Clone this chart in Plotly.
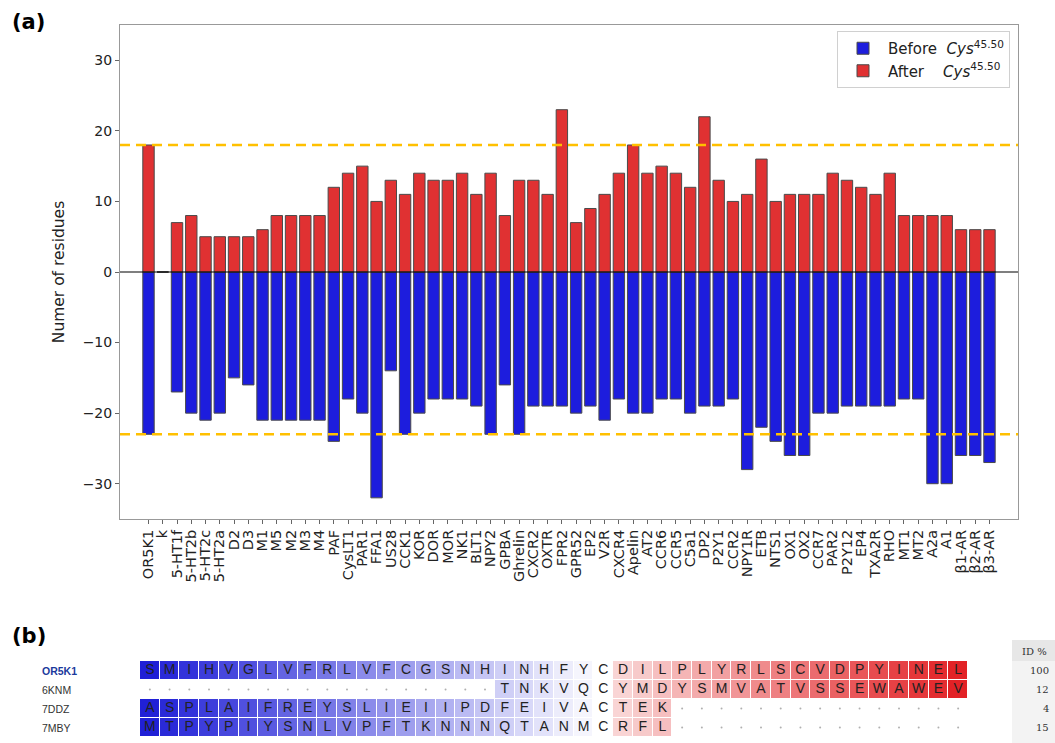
import plotly.graph_objects as go

# ---------------- (a) residue counts around Cys45.50 ----------------
receptors = [
    "OR5K1", "k", "5-HT1f", "5-HT2b", "5-HT2c", "5-HT2a", "D2", "D3", "M1", "M5",
    "M2", "M3", "M4", "PAF", "CysLT1", "PAR1", "FFA1", "US28", "CCK1", "KOR",
    "DOR", "MOR", "NK1", "BLT1", "NPY2", "GPBA", "Ghrelin", "CXCR2", "OXTR", "FPR2",
    "GPR52", "EP2", "V2R", "CXCR4", "Apelin", "AT2", "CCR6", "CCR5", "C5a1", "DP2",
    "P2Y1", "CCR2", "NPY1R", "ETB", "NTS1", "OX1", "OX2", "CCR7", "PAR2", "P2Y12",
    "EP4", "TXA2R", "RHO", "MT1", "MT2", "A2a", "A1", "β1-AR", "β2-AR", "β3-AR",
]
after_cys = [
    18, 0, 7, 8, 5, 5, 5, 5, 6, 8,
    8, 8, 8, 12, 14, 15, 10, 13, 11, 14,
    13, 13, 14, 11, 14, 8, 13, 13, 11, 23,
    7, 9, 11, 14, 18, 14, 15, 14, 12, 22,
    13, 10, 11, 16, 10, 11, 11, 11, 14, 13,
    12, 11, 14, 8, 8, 8, 8, 6, 6, 6,
]
before_cys = [
    -23, 0, -17, -20, -21, -20, -15, -16, -21, -21,
    -21, -21, -21, -24, -18, -20, -32, -14, -23, -20,
    -18, -18, -18, -19, -23, -16, -23, -19, -19, -19,
    -20, -19, -21, -18, -20, -20, -18, -18, -20, -19,
    -19, -18, -28, -22, -24, -26, -26, -20, -20, -19,
    -19, -19, -19, -18, -18, -30, -30, -26, -26, -27,
]
y_ticks = [-30, -20, -10, 0, 10, 20, 30]

# reference levels taken from OR5K1
upper_ref = after_cys[0]
lower_ref = before_cys[0]

# ---------------- (b) alignment ----------------
seq_ids = ["OR5K1", "6KNM", "7DDZ", "7MBY"]
seq_rows = [
    "SMIHVGLVFRLVFCGSNHINHFYCDILPLYRLSCVDPYINEL",
    "------------------TNKVQCYMDYSMVATVSSEWAWEV",
    "ASPLAIFREYSLIEIIPDFEIVACTEK---------------",
    "MTPYPIYSNLVPFTKNNNQTANMCRFL---------------",
]
identity_pct = [100, 12, 4, 15]
cys_col = 23

W, H = 1055, 743
def px_x(p):
    return p / W
def px_y(p):
    return 1 - p / H

fig = go.Figure()

fig.add_trace(go.Bar(
    x=receptors, y=before_cys, name="Before  <i>Cys</i><sup>45.50</sup>",
    marker=dict(color="#1d1ddd", line=dict(color="#4a4a4a", width=1)),
    width=0.8, xaxis="x", yaxis="y",
))
fig.add_trace(go.Bar(
    x=receptors, y=after_cys, name="After    <i>Cys</i><sup>45.50</sup>",
    marker=dict(color="#e03132", line=dict(color="#4a4a4a", width=1)),
    width=0.8, xaxis="x", yaxis="y",
))

# alignment heat map: shading by offset from the Cys column
ncol = len(seq_rows[0])
z = []
let_x, let_y, let_t = [], [], []
dot_x, dot_y = [], []
for rid, row in zip(seq_ids, seq_rows):
    zr = []
    for j, ch in enumerate(row):
        if ch == "-":
            zr.append(None)
            dot_x.append(j)
            dot_y.append(rid)
        else:
            zr.append(j - cys_col)
            let_x.append(j)
            let_y.append(rid)
            let_t.append(ch)
    z.append(zr)

zmin, zmax = -cys_col, ncol - 1 - cys_col
mid = (0 - zmin) / (zmax - zmin)
fig.add_trace(go.Heatmap(
    z=z, x=list(range(ncol)), y=seq_ids,
    zmin=zmin, zmax=zmax,
    colorscale=[[0, "rgb(32,32,214)"], [mid, "rgb(255,255,255)"],
                [mid + 0.02, "rgb(249,214,214)"], [1, "rgb(226,34,38)"]],
    showscale=False, xgap=1, ygap=1, hoverongaps=False,
    xaxis="x2", yaxis="y2",
))
fig.add_trace(go.Scatter(
    x=let_x, y=let_y, text=let_t, mode="text", cliponaxis=False,
    textfont=dict(family="Liberation Sans, Arial", size=14, color="#222222"),
    showlegend=False, xaxis="x2", yaxis="y2", hoverinfo="skip",
))
fig.add_trace(go.Scatter(
    x=dot_x, y=dot_y, mode="markers", cliponaxis=False,
    marker=dict(size=2, color="#b0b0b0"), showlegend=False,
    xaxis="x2", yaxis="y2", hoverinfo="skip",
))

shapes = [
    dict(type="line", xref="x domain", yref="y", x0=0, x1=1, y0=0, y1=0,
         line=dict(color="black", width=1.2), layer="above"),
    dict(type="line", xref="x domain", yref="y", x0=0, x1=1, y0=upper_ref, y1=upper_ref,
         line=dict(color="#ffc000", width=2.6, dash="10px,6px"), layer="above"),
    dict(type="line", xref="x domain", yref="y", x0=0, x1=1, y0=lower_ref, y1=lower_ref,
         line=dict(color="#ffc000", width=2.6, dash="10px,6px"), layer="above"),
    # ID % side table
    dict(type="rect", xref="paper", yref="paper", x0=px_x(1012), x1=1,
         y0=px_y(661), y1=px_y(640), fillcolor="#e7e7e7", line=dict(width=0), layer="below"),
    dict(type="rect", xref="paper", yref="paper", x0=px_x(1012), x1=1,
         y0=0, y1=px_y(661), fillcolor="#f3f3f3", line=dict(width=0), layer="below"),
]

annotations = [
    dict(text="<b>(a)</b>", x=px_x(10), y=px_y(22), xref="paper", yref="paper",
         xanchor="left", yanchor="middle", showarrow=False,
         font=dict(family="DejaVu Sans", size=21, color="black")),
    dict(text="<b>(b)</b>", x=px_x(10), y=px_y(636), xref="paper", yref="paper",
         xanchor="left", yanchor="middle", showarrow=False,
         font=dict(family="DejaVu Sans", size=21, color="black")),
    dict(text="ID %", x=px_x(1034), y=px_y(651), xref="paper", yref="paper",
         xanchor="center", yanchor="middle", showarrow=False,
         font=dict(family="DejaVu Serif", size=10, color="#333")),
]
for i, (rid, pct) in enumerate(zip(seq_ids, identity_pct)):
    if i == 0:
        label = f"<b>{rid}</b>"
        col = "#1b3a9c"
    else:
        label = rid
        col = "#333333"
    annotations.append(dict(
        text=label, x=px_x(40), y=rid, xref="paper", yref="y2",
        xanchor="left", yanchor="middle", showarrow=False,
        font=dict(family="Liberation Sans, Arial", size=10.5, color=col)))
    annotations.append(dict(
        text=str(pct), x=px_x(1051), y=rid, xref="paper", yref="y2",
        xanchor="right", yanchor="middle", showarrow=False,
        font=dict(family="DejaVu Serif", size=10, color="#333")))

fig.update_layout(
    width=W, height=H, autosize=False,
    margin=dict(l=0, r=0, t=0, b=0),
    paper_bgcolor="white", plot_bgcolor="white",
    barmode="relative", bargap=0.2,
    font=dict(family="DejaVu Sans", color="#222"),
    showlegend=True,
    legend=dict(
        x=px_x(1010), y=px_y(31), xanchor="right", yanchor="top",
        bgcolor="white", bordercolor="#d0d0d0", borderwidth=1,
        font=dict(family="DejaVu Sans", size=15, color="#222"),
        tracegroupgap=2, itemwidth=40,
    ),
    xaxis=dict(
        domain=[px_x(120), px_x(1018)], anchor="y",
        type="category", categoryorder="array", categoryarray=receptors,
        tickmode="array", tickvals=receptors, ticktext=receptors,
        range=[-2, 61], tickangle=-90,
        tickfont=dict(family="DejaVu Sans", size=14.5, color="#222"),
        ticks="outside", ticklen=4, tickcolor="#666",
        showline=True, mirror=True, linecolor="#999", linewidth=1,
        showgrid=False, zeroline=False,
    ),
    yaxis=dict(
        domain=[px_y(519), px_y(25)], anchor="x",
        range=[-35, 35], tickvals=y_ticks,
        tickfont=dict(family="DejaVu Sans", size=14, color="#222"),
        ticks="outside", ticklen=4, tickcolor="#666",
        showline=True, mirror=True, linecolor="#999", linewidth=1,
        showgrid=False, zeroline=False,
        title=dict(text="Numer of residues", standoff=14,
                   font=dict(family="DejaVu Sans", size=15.5, color="#222")),
    ),
    xaxis2=dict(
        domain=[px_x(140), px_x(968)], anchor="y2",
        range=[-0.5, ncol - 0.5], visible=False, showgrid=False, zeroline=False,
    ),
    yaxis2=dict(
        domain=[px_y(737), px_y(661)], anchor="x2",
        type="category", categoryorder="array", categoryarray=seq_ids,
        range=[len(seq_ids) - 0.5, -0.5], visible=False, showgrid=False, zeroline=False,
    ),
    shapes=shapes,
    annotations=annotations,
)

fig.write_html("out.html")
